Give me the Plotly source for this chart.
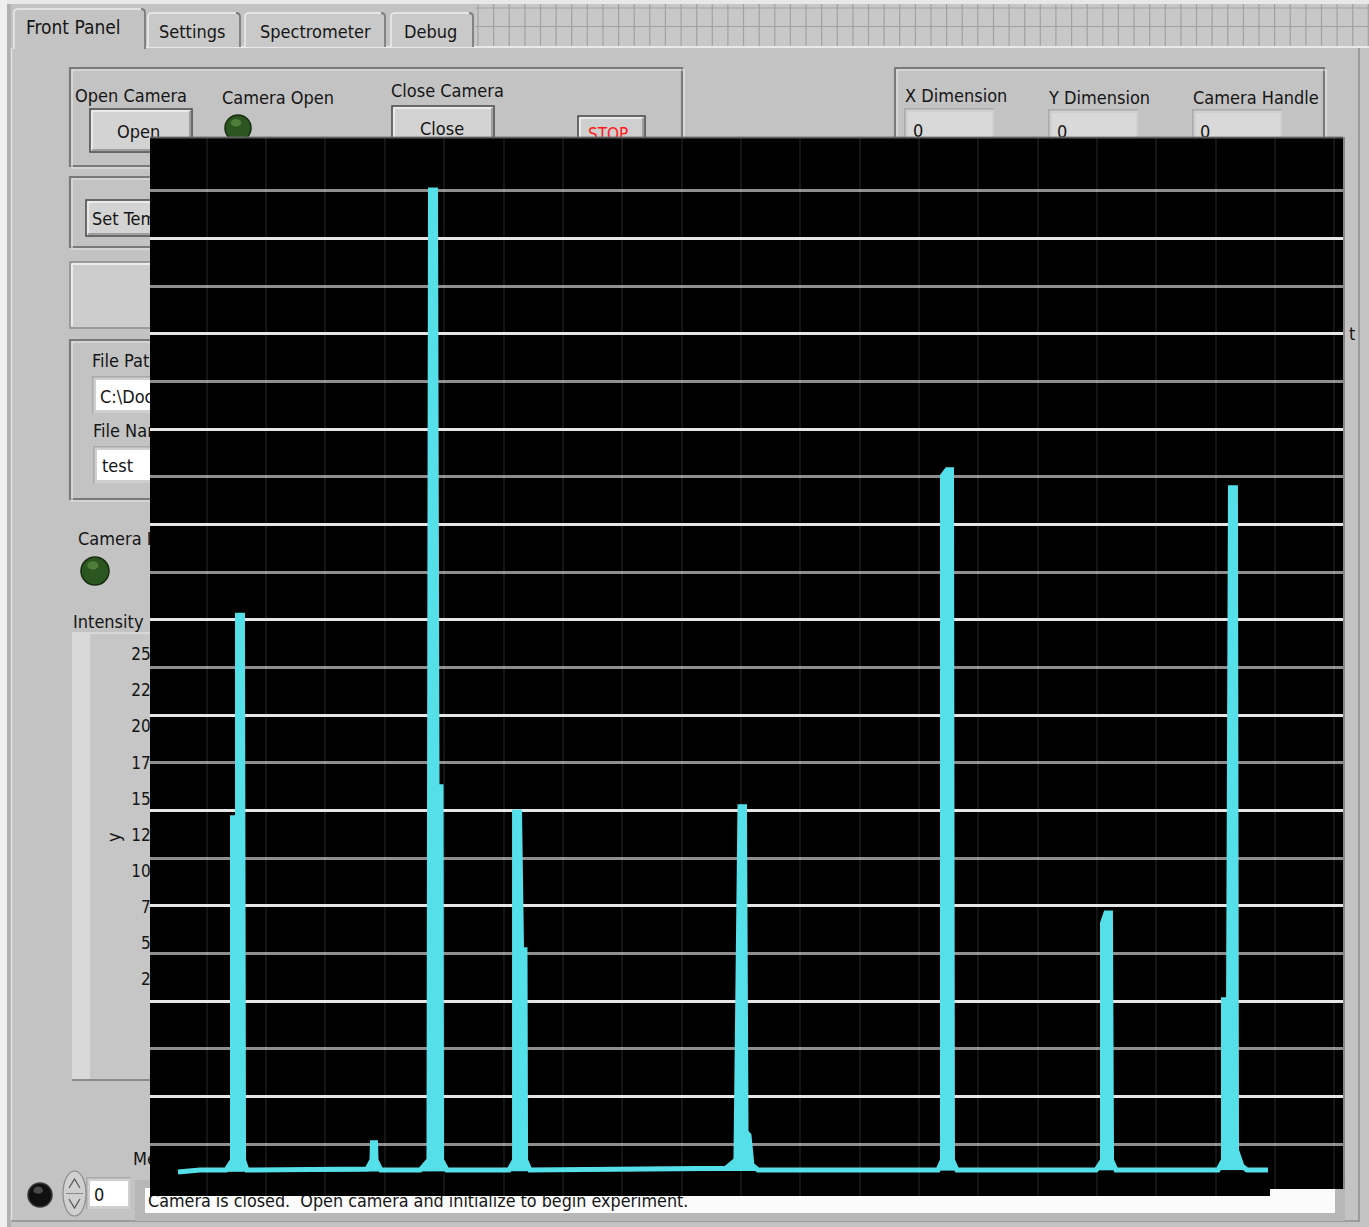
import plotly.graph_objects as go

# ---------------------------------------------------------------------------
# Spectrum trace (CCD channel vs. intensity counts)
# ---------------------------------------------------------------------------
channel = [25.8, 44.3,
           66.2, 71.7, 71.7, 75.9, 75.9, 80.1, 81.0, 83.9,
           185.0, 189.2, 189.6, 192.2, 192.6, 196.8,
           229.7, 237.2, 238.5, 242.7, 244.0, 247.4, 247.8, 252.4,
           304.6, 309.3, 309.3, 313.5, 315.2, 318.1, 318.6, 322.3,
           487.4, 495.8, 499.2, 503.0, 504.3, 506.8, 509.3, 514.4,
           666.0, 669.8, 669.8, 673.6, 677.4, 678.2, 682.0,
           799.2, 804.6, 804.6, 807.5, 811.3, 812.2, 816.0,
           901.9, 906.5, 906.5, 910.8, 912.4, 916.6, 917.5, 922.1, 926.3,
           944.0]
counts = [420, 460,
          460, 670, 7850, 7850, 12100, 12100, 670, 460,
          480, 670, 1030, 1030, 670, 460,
          460, 670, 21020, 21020, 8500, 8500, 670, 460,
          460, 670, 7970, 7970, 5080, 5080, 670, 460,
          500, 670, 8080, 8080, 1260, 1190, 565, 460,
          460, 670, 15020, 15150, 15150, 670, 460,
          460, 670, 5640, 5850, 5850, 670, 460,
          460, 670, 4030, 4030, 14770, 14770, 880, 545, 460,
          460]

# Graticule levels of the spectrum display
major_levels = [2000, 4000, 6000, 8000, 10000, 12000, 14000, 16000, 18000, 20000]
minor_levels = [1000, 3000, 5000, 7000, 9000, 11000, 13000, 15000, 17000, 19000, 21000]
channel_range = [2.2, 1007.2]
counts_range = [-84.5, 22130]

# Scale labels of the front-panel intensity graph
scale_labels = ["25000", "22500", "20000", "17500", "15000",
                "12500", "10000", "7500", "5000", "2500"]

W, H = 1369, 1227
PANEL = "#c3c3c3"
FONT = "DejaVu Sans Condensed, Liberation Sans, sans-serif"
INK = "#151515"
CYAN = "#55dfe9"

shapes = []


def rect(x0, y0, x1, y1, fill=None, line=None, lw=1.0, layer="below", kind="rect"):
    shapes.append(dict(type=kind, xref="x", yref="y", x0=x0, y0=y0, x1=x1, y1=y1,
                       fillcolor=fill or "rgba(0,0,0,0)",
                       line=dict(color=line or "rgba(0,0,0,0)", width=lw if line else 0),
                       layer=layer))


def seg(x0, y0, x1, y1, color, lw=1.0, layer="below"):
    shapes.append(dict(type="line", xref="x", yref="y", x0=x0, y0=y0, x1=x1, y1=y1,
                       line=dict(color=color, width=lw), layer=layer))


def path(d, color=None, lw=1.0, fill=None, layer="below"):
    shapes.append(dict(type="path", xref="x", yref="y", path=d,
                       fillcolor=fill or "rgba(0,0,0,0)",
                       line=dict(color=color or "rgba(0,0,0,0)", width=lw if color else 0),
                       layer=layer))


def etched(x0, y0, x1, y1):
    rect(x0, y0, x1, y1, line="#7a7a7a", lw=2.2)
    rect(x0 + 2, y0 + 2, x1 + 2, y1 + 2, line="#e6e6e6", lw=1.2)


def button(x0, y0, x1, y1, fill="#d3d3d3"):
    rect(x0, y0, x1, y1, fill=fill, line="#4a4a4a", lw=1.5)
    seg(x0 + 2, y0 + 2, x1 - 2, y0 + 2, "#f2f2f2", 1.5)
    seg(x0 + 2, y0 + 2, x0 + 2, y1 - 2, "#f2f2f2", 1.5)
    seg(x0 + 2, y1 - 2, x1 - 2, y1 - 2, "#8e8e8e", 1.5)
    seg(x1 - 2, y0 + 2, x1 - 2, y1 - 2, "#8e8e8e", 1.5)


def field(x0, y0, x1, y1, inner="#ffffff"):
    rect(x0, y0, x1, y1, fill="#a9a9a9")
    rect(x0 + 1.5, y0 + 1.5, x1, y1, fill="#cfcfcf")
    rect(x0 + 4, y0 + 4, x1 - 2, y1 - 3, fill=inner)


def led(cx, cy, r, body, edge, glint):
    rect(cx - r, cy - r, cx + r, cy + r, fill=body, line=edge, lw=1.5, kind="circle")
    rect(cx - r * 0.55, cy - r * 0.7, cx + r * 0.25, cy - r * 0.1, fill=glint, kind="circle")


def tab(x0, y0, x1, y1, fill):
    d = (f"M{x0},{y1} L{x0},{y0 + 5} Q{x0},{y0} {x0 + 5},{y0} "
         f"L{x1 - 5},{y0} Q{x1},{y0} {x1},{y0 + 5} L{x1},{y1} Z")
    path(d, fill=fill)
    path(f"M{x0 + 1},{y1} L{x0 + 1},{y0 + 5} Q{x0 + 1},{y0 + 1} {x0 + 5},{y0 + 1} L{x1 - 5},{y0 + 1}",
         color="#ededed", lw=1.5)
    path(f"M{x1 - 5},{y0 + 1} Q{x1 - 1},{y0 + 1} {x1 - 1},{y0 + 5} L{x1 - 1},{y1}",
         color="#7c7c7c", lw=1.8)


# --- window frame and block-diagram grid strip ---
rect(0, 0, W, 4, fill="#e8e8e8")
rect(0, 0, 7, H, fill="#efefef")
rect(7, 4, 11, H, fill="#b1b1b1")
rect(475, 4, W, 46, fill="#c8c8c8")
grid_d = " ".join(f"M{x:.1f},4 V46" for x in [478 + 15.62 * k for k in range(58)])
grid_d += " M475,8 H1369 M475,26.5 H1369"
path(grid_d, color="#a2a2a2", lw=1.2)
seg(146, 47, W, 47, "#e9e9e9", 2)
seg(11.5, 48, 11.5, 1222, "#e2e2e2", 1.5)
seg(1359, 48, 1359, 1222, "#8f8f8f", 1.5)
seg(11, 1221, 1359, 1221, "#8f8f8f", 1.5)

# --- tabs ---
tab(147, 12, 241, 47, "#c9c9c9")
tab(244, 12, 386, 47, "#c9c9c9")
tab(390, 12, 474, 47, "#c9c9c9")
tab(13, 8, 146, 49, PANEL)

# --- camera open / close group ---
etched(70, 68, 682, 166)
button(90, 109, 192, 152)
led(238, 128, 13, "#2c561f", "#182c10", "#4f7d3c")
button(392, 106, 494, 152)
button(578, 116, 645, 156, fill="#cfcfcf")

# --- camera info group ---
etched(895, 68, 1324, 160)
field(904, 108, 994, 152, inner="#d9d9d9")
field(1048, 109, 1138, 152, inner="#d9d9d9")
field(1192, 109, 1282, 152, inner="#d9d9d9")

# --- left column controls ---
etched(70, 177, 800, 247)
button(86, 200, 300, 236)
rect(70, 262, 800, 328, fill="#cdcdcd", line="#8c8c8c", lw=1.5)
seg(72, 264, 800, 264, "#ececec", 2)
seg(72, 264, 72, 326, "#ececec", 2)
etched(70, 340, 800, 499)
field(92, 376, 800, 413)
field(93, 446, 800, 483)
led(95, 571, 14, "#2c561f", "#182c10", "#4f7d3c")
rect(72, 633, 800, 1080, fill="#c6c6c6")
rect(72, 633, 90, 1080, fill="#d9d9d9")
seg(72, 1080, 800, 1080, "#8a8a8a", 2)
seg(72, 633, 800, 633, "#dcdcdc", 1.5)

# --- bottom status row ---
rect(135, 1180, 1345, 1221, fill="#b7b7b7")
rect(145, 1188, 1335, 1213, fill="#fbfbfb")
field(86, 1177, 130, 1209)
rect(63, 1171, 86, 1216, fill="#d0d0d0", line="#8a8a8a", lw=1.2, kind="circle")
path("M69,1188 L74.5,1179 L80,1188", color="#555555", lw=1.2)
path("M69,1199 L74.5,1208 L80,1199", color="#555555", lw=1.2)
seg(66, 1193.5, 83, 1193.5, "#8a8a8a", 1)
led(40, 1195, 12, "#101010", "#3a3a3a", "#4a4a4a")

# --- spectrum display backdrop (drawn in the spectrum subplot so it covers the panel) ---
shapes.append(dict(type="rect", xref="x2", yref="y2",
                   x0=channel_range[0], x1=channel_range[1],
                   y0=counts_range[0], y1=counts_range[1],
                   fillcolor="#000000", line=dict(width=0), layer="below"))

# soft bezel along the display's top and right edges
seg(150, 137.5, 1343, 137.5, "rgba(110,110,110,0.85)", 2, layer="above")
seg(1344, 137, 1344, 1189, "rgba(120,120,120,0.8)", 2, layer="above")

# status box peeking out beside the display's lower right corner
rect(1270, 1189, 1335, 1197, fill="#fbfbfb", layer="above")
rect(1335, 1189, 1345, 1197, fill="#b7b7b7", layer="above")

fig = go.Figure()


def panel_text(items, size, color=INK, pos="middle right"):
    fig.add_trace(go.Scatter(
        x=[t[1] for t in items], y=[t[2] for t in items], text=[t[0] for t in items],
        mode="text", textposition=pos,
        textfont=dict(family=FONT, size=size, color=color),
        xaxis="x", yaxis="y", hoverinfo="skip", showlegend=False))


# --- front panel text ---
panel_text([("Front Panel", 26, 29)], 19)
panel_text([("Settings", 159, 33), ("Spectrometer", 260, 33), ("Debug", 404, 33)], 18)
panel_text([
    ("Open Camera", 75, 97), ("Camera Open", 222, 99), ("Close Camera", 391, 92),
    ("Open", 117, 133), ("Close", 420, 130),
    ("X Dimension", 905, 97), ("Y Dimension", 1049, 99), ("Camera Handle", 1193, 99),
    ("0", 913, 132), ("0", 1057, 133), ("0", 1200, 133),
    ("Set Temperature", 92, 220), ("File Path", 92, 362), ("C:\\Documents and Settings", 100, 398),
    ("File Name", 93, 432), ("test", 102, 467), ("Camera Ready", 78, 540),
    ("Intensity", 73, 623), ("Message", 133, 1160), ("0", 94, 1196), ("t", 1349, 335),
], 18)
panel_text([("Camera is closed.\u00a0 Open camera and initialize to begin experiment.", 148, 1203)], 17.8)
panel_text([("STOP", 588, 136)], 17, color="#ff1a1a")
panel_text([(lab, 180, 656 + 36.1 * i) for i, lab in enumerate(scale_labels)], 17, pos="middle left")

# --- spectrum ---
fig.add_trace(go.Scatter(
    x=channel, y=counts, mode="lines", fill="toself", fillcolor=CYAN,
    line=dict(color=CYAN, width=5),
    xaxis="x2", yaxis="y2", hoverinfo="skip", showlegend=False))

fig.update_layout(
    width=W, height=H, autosize=False,
    margin=dict(l=0, r=0, t=0, b=0, pad=0),
    paper_bgcolor=PANEL, plot_bgcolor=PANEL,
    shapes=shapes,
    annotations=[dict(x=113, y=837, xref="x", yref="y", text="y", showarrow=False,
                      textangle=-90, font=dict(family=FONT, size=18, color=INK))],
    xaxis=dict(domain=[0, 1], range=[0, W], visible=False, fixedrange=True),
    yaxis=dict(domain=[0, 1], range=[H, 0], visible=False, fixedrange=True),
    xaxis2=dict(domain=[150 / W, 1343 / W], range=channel_range, anchor="y2",
                showgrid=True, gridcolor="rgba(255,255,255,0.08)", gridwidth=2,
                tick0=0, dtick=50, showticklabels=False, ticks="",
                zeroline=False, showline=False, fixedrange=True),
    yaxis2=dict(domain=[1 - 1196 / H, 1 - 137 / H], range=counts_range, anchor="x2",
                tickmode="array", tickvals=major_levels,
                showgrid=True, gridcolor="#e6e6e6", gridwidth=3,
                minor=dict(tickmode="array", tickvals=minor_levels, showgrid=True,
                           gridcolor="#8e8e8e", gridwidth=3, ticks=""),
                showticklabels=False, ticks="", zeroline=False, showline=False,
                fixedrange=True),
)

fig.write_html("out.html")
